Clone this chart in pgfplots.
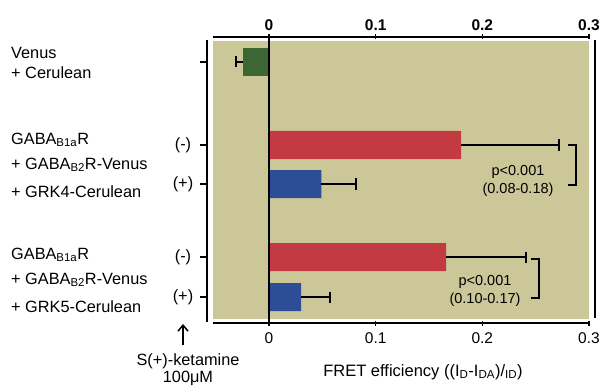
\documentclass[border=0pt]{standalone}
\usepackage{pgfplots}
\pgfplotsset{compat=1.18}
\usetikzlibrary{arrows.meta}
\usepackage{fontspec}
\setmainfont{Liberation Sans}
\definecolor{bgk}{RGB}{204,199,152}
\definecolor{barred}{RGB}{196,58,66}
\definecolor{barblue}{RGB}{45,78,150}
\definecolor{bargreen}{RGB}{62,102,52}
\newcommand{\px}[2]{({#1*1bp},{(387-#2)*1bp})}
\newcommand{\lf}{\fontsize{16.3bp}{19bp}\selectfont}
\begin{document}
\begin{tikzpicture}
\path[use as bounding box] (0,0) rectangle (601bp,387bp);
\fill[bgk] \px{213}{41} rectangle \px{589}{319};
\begin{axis}[at={(213bp,64bp)}, anchor=south west, scale only axis,
  width=376bp, height=286bp,
  xmin=-0.0525, xmax=0.3, ymin=37, ymax=323, y dir=reverse,
  axis x line=box, axis y line=none,
  axis line style={line width=2bp},
  xtick={0,0.1,0.2,0.3}, tick align=center, major tick length=5bp,
  xtick style={line width=1.6bp, black},
  /pgf/number format/assume math mode=true,
  xticklabel style={font=\fontsize{15.5bp}{17bp}\selectfont, yshift=-4bp},
  bar shift=0pt,
  errstyle/.style={only marks, mark=text, text mark={}, black, forget plot,
    error bars/x explicit,
    error bars/error bar style={line width=2bp, black},
    error bars/error mark=|,
    error bars/error mark options={draw=black, line width=2bp, mark size=5.5bp}}]
\addplot[xbar, bar width=28, fill=bargreen, draw=none]
  coordinates {(-0.024,62)};
\addplot[xbar, bar width=28, fill=barred, draw=none]
  coordinates {(0.180,145) (0.166,257)};
\addplot[xbar, bar width=28, fill=barblue, draw=none]
  coordinates {(0.049,184) (0.030,297)};
\addplot[errstyle, error bars/x dir=minus]
  coordinates {(-0.024,62) +- (0.007,0)};
\addplot[errstyle, error bars/x dir=plus]
  coordinates {(0.180,145) +- (0.092,0) (0.166,257) +- (0.075,0)
               (0.049,184) +- (0.033,0) (0.030,297) +- (0.027,0)};
\draw[line width=2bp] (axis cs:0,37) -- (axis cs:0,323);
\end{axis}
\begin{axis}[at={(213bp,64bp)}, anchor=south west, scale only axis,
  width=376bp, height=286bp,
  xmin=-0.0525, xmax=0.3, ymin=37, ymax=323, y dir=reverse,
  axis x line=top, axis y line=none,
  axis line style={line width=2bp, -},
  xtick={0,0.1,0.2,0.3}, tick align=center, major tick length=5bp,
  xtick style={line width=1.6bp, black},
  /pgf/number format/assume math mode=true,
  xticklabel style={font=\bfseries\fontsize{15.5bp}{17bp}\selectfont}]
\addplot[draw=none] coordinates {(0,100)};
\end{axis}
% spines
\draw[line width=2bp] \px{207}{40} -- \px{207}{322};
\foreach \yy in {62,145,184,257,297} \draw[line width=2bp] \px{200}{\yy} -- \px{207}{\yy};
\draw[line width=2bp] \px{595}{40} -- \px{595}{318};
% brackets
\draw[line width=2bp] \px{568}{145} -- \px{576}{145} -- \px{576}{185} -- \px{568}{185};
\draw[line width=2bp] \px{531}{259} -- \px{539}{259} -- \px{539}{298} -- \px{531}{298};
\node[font=\fontsize{14.5bp}{16bp}\selectfont] at \px{518}{172} {p<0.001};
\node[font=\fontsize{14.5bp}{16bp}\selectfont] at \px{518}{190} {(0.08-0.18)};
\node[font=\fontsize{14.5bp}{16bp}\selectfont] at \px{485}{282} {p<0.001};
\node[font=\fontsize{14.5bp}{16bp}\selectfont] at \px{485}{300} {(0.10-0.17)};
% left labels
\node[anchor=west, font=\lf, inner sep=0] at \px{11}{53} {Venus};
\node[anchor=west, font=\lf, inner sep=0] at \px{11}{73} {+ Cerulean};
\node[anchor=west, font=\lf, inner sep=0] at \px{11}{140} {GABA\textsubscript{B1a}R};
\node[anchor=west, font=\lf, inner sep=0] at \px{11}{165} {+ GABA\textsubscript{B2}R-Venus};
\node[anchor=west, font=\lf, inner sep=0] at \px{11}{192} {+ GRK4-Cerulean};
\node[anchor=west, font=\lf, inner sep=0] at \px{11}{255} {GABA\textsubscript{B1a}R};
\node[anchor=west, font=\lf, inner sep=0] at \px{11}{280} {+ GABA\textsubscript{B2}R-Venus};
\node[anchor=west, font=\lf, inner sep=0] at \px{11}{307} {+ GRK5-Cerulean};
\node[font=\lf] at \px{183}{145} {(-)};
\node[font=\lf] at \px{183}{184} {(+)};
\node[font=\lf] at \px{183}{257} {(-)};
\node[font=\lf] at \px{183}{297} {(+)};
\draw[line width=1.5bp, -{Straight Barb[length=6bp,width=10bp]}] \px{183}{345} -- \px{183}{324};
\node[font=\lf] at \px{188}{361} {S(+)-ketamine};
\node[font=\lf] at \px{188}{378} {100μM};
\node[font=\fontsize{16.5bp}{19bp}\selectfont] at \px{423}{372} {FRET efficiency ((I\textsubscript{D}-I\textsubscript{DA})/\textsubscript{ID})};
\end{tikzpicture}
\end{document}
